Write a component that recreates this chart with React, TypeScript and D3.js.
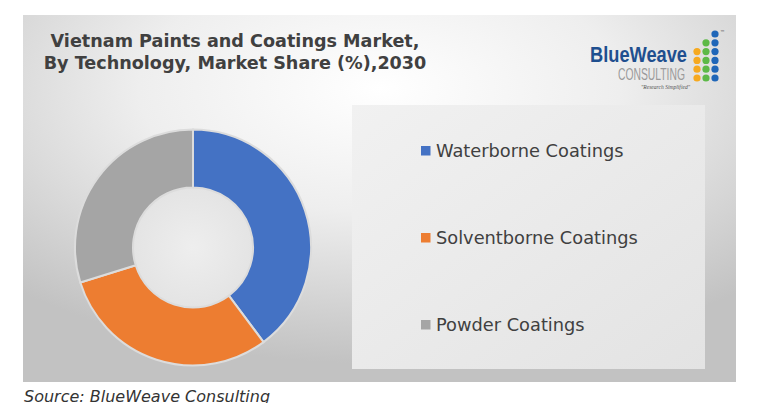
import React from "react";
import * as d3 from "d3";

const categories = ["Waterborne Coatings", "Solventborne Coatings", "Powder Coatings"];
const shares = [39.8, 30.4, 29.8];
const colors = ["#4472c4", "#ed7d31", "#a5a5a5"];
const titleLines = ["Vietnam Paints and Coatings Market,", "By Technology, Market Share (%),2030"];
const sourceText = "Source: BlueWeave Consulting";

// logo dot grid: [column, row, color]
const logoDots: [number, number, string][] = [
  [2, 0, "#1f66b8"], [2, 1, "#1f66b8"], [2, 2, "#1f66b8"], [2, 3, "#1f66b8"], [2, 4, "#1f66b8"], [2, 5, "#1f66b8"],
  [1, 1, "#5cb947"], [1, 2, "#5cb947"], [1, 3, "#5cb947"], [1, 4, "#5cb947"], [1, 5, "#5cb947"],
  [0, 2, "#f6a91f"], [0, 3, "#f6a91f"], [0, 4, "#f6a91f"], [0, 5, "#f6a91f"],
];

export default function App() {
  const W = 762, H = 403;
  const cx = 193, cy = 247.5, rOut = 118, rIn = 60;
  const pie = d3.pie<number>().sort(null).value((d) => d);
  const arcs = pie(shares);
  const arc = d3.arc<d3.PieArcDatum<number>>().innerRadius(rIn).outerRadius(rOut);

  const legendY = d3.scalePoint<string>().domain(categories).range([151, 325]);

  return (
    <svg width={W} height={H} style={{ position: "absolute", left: 0, top: 0 }}>
      <defs>
        <radialGradient id="bg" cx="0.5" cy="0.2" r="0.75" gradientUnits="objectBoundingBox">
          <stop offset="0" stopColor="#ffffff" />
          <stop offset="0.45" stopColor="#eeeeee" />
          <stop offset="1" stopColor="#c2c2c2" />
        </radialGradient>
        <linearGradient id="panel" x1="0" y1="0" x2="1" y2="1">
          <stop offset="0" stopColor="#f1f1f1" />
          <stop offset="1" stopColor="#e3e3e3" />
        </linearGradient>
        <radialGradient id="hole" cx="0.5" cy="0.5" r="0.5">
          <stop offset="0" stopColor="#eeeeee" />
          <stop offset="1" stopColor="#e4e4e4" />
        </radialGradient>
      </defs>
      <rect x={0} y={0} width={W} height={H} fill="#ffffff" />
      <rect x={23} y={15} width={713} height={367} fill="url(#bg)" />
      <rect x={352} y={105} width={353} height={264} fill="url(#panel)" />

      {titleLines.map((t, i) => (
        <text key={i} x={235} y={47 + i * 22} textAnchor="middle"
          fontFamily="DejaVu Sans, Verdana, sans-serif" fontWeight="bold" fontSize={17.6} fill="#404040">
          {t}
        </text>
      ))}

      {/* Logo */}
      <g>
        <text x={590} y={62} fontFamily="Liberation Sans Narrow, Liberation Sans, sans-serif" fontWeight="bold"
          fontSize={22} fill="#1f4f8f" textLength={97} lengthAdjust="spacingAndGlyphs">BlueWeave</text>
        <text x={618} y={80} fontFamily="Liberation Sans Narrow, Liberation Sans, sans-serif"
          fontSize={16} fill="#9a9a9a" textLength={67} lengthAdjust="spacingAndGlyphs">CONSULTING</text>
        <text x={641} y={89} fontFamily="Liberation Serif, serif" fontStyle="italic"
          fontSize={5.5} fill="#555" textLength={49} lengthAdjust="spacingAndGlyphs">"Research Simplified"</text>
        <text x={720} y={34} fontFamily="DejaVu Sans, sans-serif" fontSize={5} fill="#444">™</text>
        {logoDots.map(([c, r, col], i) => (
          <circle key={i} cx={697 + c * 9} cy={34 + r * 8.8} r={3.6} fill={col} />
        ))}
      </g>

      {/* Donut */}
      <circle cx={cx} cy={cy} r={rIn} fill="url(#hole)" />
      <g transform={`translate(${cx},${cy})`}>
        {arcs.map((a, i) => (
          <path key={i} d={arc(a) || ""} fill={colors[i]} stroke="#dcdcdc" strokeWidth={2} />
        ))}
      </g>

      {/* Legend */}
      {categories.map((c, i) => {
        const y = legendY(c) as number;
        return (
          <g key={c}>
            <rect x={421} y={y - 5} width={9.5} height={9.5} fill={colors[i]} />
            <text x={436} y={y + 5.5} fontFamily="DejaVu Sans, Verdana, sans-serif" fontSize={17.8} fill="#404040">
              {c}
            </text>
          </g>
        );
      })}

      <text x={24} y={402} fontFamily="DejaVu Sans, Verdana, sans-serif" fontStyle="italic" fontSize={16} fill="#333">
        {sourceText}
      </text>
    </svg>
  );
}
